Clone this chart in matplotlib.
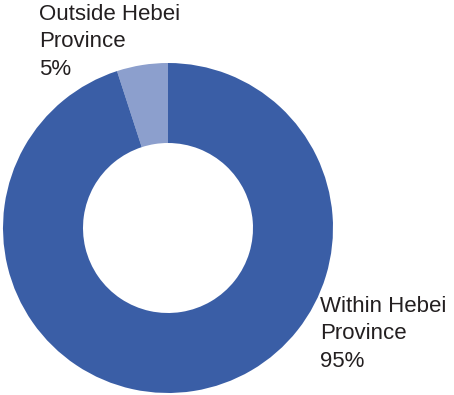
import matplotlib.pyplot as plt

labels = ['Outside Hebei\nProvince\n5%', 'Within Hebei\nProvince\n95%']
shares = [5, 95]
colors = ['#8C9FCD', '#3A5EA6']

fig = plt.figure(figsize=(4.54, 3.95), dpi=100)
ax = fig.add_axes([0, 0, 1, 1])

ax.pie(shares, colors=colors, startangle=90, counterclock=True,
       center=(168, 395 - 228), radius=165,
       wedgeprops=dict(width=80, linewidth=0), frame=True)
ax.set_xlim(0, 454)
ax.set_ylim(0, 395)
ax.axis('off')

ax.text(39, 395 - 4, labels[0], ha='left', va='top', fontsize=16,
        color='#231F20', family='Liberation Sans', linespacing=1.4)
ax.text(320, 395 - 296, labels[1], ha='left', va='top', fontsize=16,
        color='#231F20', family='Liberation Sans', linespacing=1.4)

fig.savefig('out.png', dpi=100)
